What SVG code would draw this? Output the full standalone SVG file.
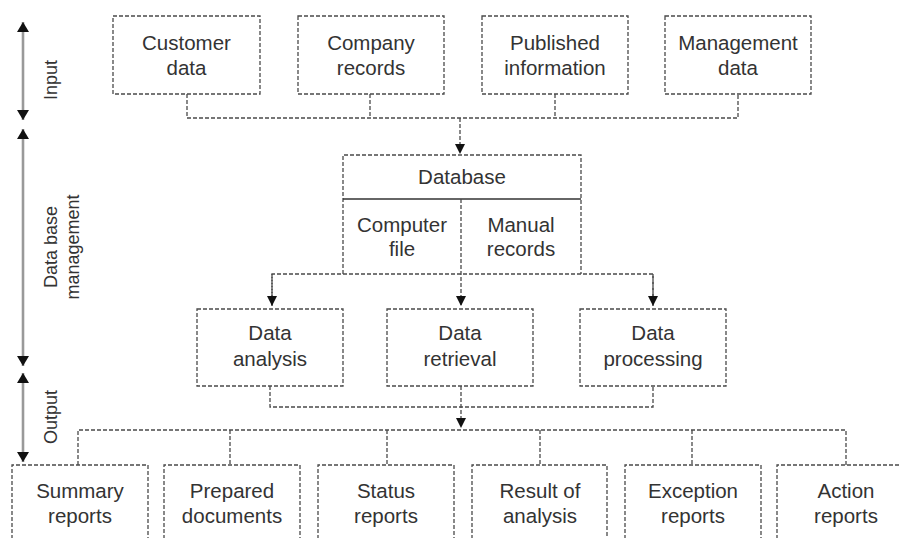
<svg xmlns="http://www.w3.org/2000/svg" width="901" height="538" viewBox="0 0 901 538">
  <style>
    .box { fill: none; stroke: #4a4a4a; stroke-width: 1.3; stroke-dasharray: 4 2; }
    .conn { fill: none; stroke: #4a4a4a; stroke-width: 1.3; stroke-dasharray: 4 2; }
    .solid { fill: none; stroke: #333; stroke-width: 1.3; }
    .lbl { font-family: "Liberation Sans", Arial, sans-serif; font-size: 20.5px; fill: #333; text-anchor: middle; }
    .side { font-family: "Liberation Sans", Arial, sans-serif; font-size: 18px; fill: #333; text-anchor: middle; }
    .span { fill: none; stroke: #999; stroke-width: 2.6; }
  </style>
  <defs>
    <marker id="arrow" markerUnits="userSpaceOnUse" markerWidth="10" markerHeight="11" refX="10" refY="5" orient="auto">
      <path d="M0,0 L10,5 L0,10 z" fill="#111"/>
    </marker>
    <marker id="tip" markerUnits="userSpaceOnUse" markerWidth="10" markerHeight="12" refX="10" refY="6" orient="auto-start-reverse">
      <path d="M0,0 L10,6 L0,12 z" fill="#111"/>
    </marker>
  </defs>
  <rect width="901" height="538" fill="#fff"/>

  <!-- stage spans on the left -->
  <g id="stages">
    <line class="span" x1="23" y1="22" x2="23" y2="120" marker-start="url(#tip)" marker-end="url(#tip)"/>
    <line class="span" x1="23" y1="129" x2="23" y2="366" marker-start="url(#tip)" marker-end="url(#tip)"/>
    <line class="span" x1="23" y1="373" x2="23" y2="462" marker-start="url(#tip)" marker-end="url(#tip)"/>
    <text class="side" transform="translate(57,80) rotate(-90)">Input</text>
    <text class="side" transform="translate(57,247) rotate(-90)">Data base</text>
    <text class="side" transform="translate(79,247) rotate(-90)">management</text>
    <text class="side" transform="translate(57,417) rotate(-90)">Output</text>
  </g>

  <!-- input sources -->
  <g id="customer-data">
    <rect class="box" x="113" y="16" width="147" height="78"/>
    <text class="lbl" x="186.5" y="50">Customer</text>
    <text class="lbl" x="186.5" y="75">data</text>
  </g>
  <g id="company-records">
    <rect class="box" x="298" y="16" width="146" height="78"/>
    <text class="lbl" x="371" y="50">Company</text>
    <text class="lbl" x="371" y="75">records</text>
  </g>
  <g id="published-information">
    <rect class="box" x="482" y="16" width="146" height="78"/>
    <text class="lbl" x="555" y="50">Published</text>
    <text class="lbl" x="555" y="75">information</text>
  </g>
  <g id="management-data">
    <rect class="box" x="665" y="16" width="146" height="78"/>
    <text class="lbl" x="738" y="50">Management</text>
    <text class="lbl" x="738" y="75">data</text>
  </g>

  <!-- database -->
  <g id="database">
    <path class="box" d="M343,274 L343,155 L581,155 L581,274"/>
    <line class="solid" x1="343" y1="199" x2="581" y2="199"/>
    <text class="lbl" x="462" y="184">Database</text>
    <text class="lbl" x="402" y="232">Computer</text>
    <text class="lbl" x="402" y="256">file</text>
    <text class="lbl" x="521" y="232">Manual</text>
    <text class="lbl" x="521" y="256">records</text>
  </g>

  <!-- processing -->
  <g id="data-analysis">
    <rect class="box" x="197" y="309" width="146" height="77"/>
    <text class="lbl" x="270" y="340">Data</text>
    <text class="lbl" x="270" y="366">analysis</text>
  </g>
  <g id="data-retrieval">
    <rect class="box" x="387" y="309" width="146" height="77"/>
    <text class="lbl" x="460" y="340">Data</text>
    <text class="lbl" x="460" y="366">retrieval</text>
  </g>
  <g id="data-processing">
    <rect class="box" x="580" y="309" width="146" height="77"/>
    <text class="lbl" x="653" y="340">Data</text>
    <text class="lbl" x="653" y="366">processing</text>
  </g>

  <!-- outputs -->
  <g id="summary-reports">
    <path class="box" d="M12,545 L12,465 L148,465 L148,545"/>
    <text class="lbl" x="80" y="498">Summary</text>
    <text class="lbl" x="80" y="523">reports</text>
  </g>
  <g id="prepared-documents">
    <path class="box" d="M164,545 L164,465 L300,465 L300,545"/>
    <text class="lbl" x="232" y="498">Prepared</text>
    <text class="lbl" x="232" y="523">documents</text>
  </g>
  <g id="status-reports">
    <path class="box" d="M318,545 L318,465 L454,465 L454,545"/>
    <text class="lbl" x="386" y="498">Status</text>
    <text class="lbl" x="386" y="523">reports</text>
  </g>
  <g id="result-of-analysis">
    <path class="box" d="M472,545 L472,465 L607,465 L607,545"/>
    <text class="lbl" x="540" y="498">Result of</text>
    <text class="lbl" x="540" y="523">analysis</text>
  </g>
  <g id="exception-reports">
    <path class="box" d="M625,545 L625,465 L761,465 L761,545"/>
    <text class="lbl" x="693" y="498">Exception</text>
    <text class="lbl" x="693" y="523">reports</text>
  </g>
  <g id="action-reports">
    <path class="box" d="M777,545 L777,465 L915,465 L915,545"/>
    <text class="lbl" x="846" y="498">Action</text>
    <text class="lbl" x="846" y="523">reports</text>
  </g>

  <g id="connectors">
    <!-- sources into database -->
    <path class="conn" d="M187,94 V118 H738 V94 M370,94 V118 M555,94 V118"/>
    <line class="conn" x1="460" y1="118" x2="460" y2="154" marker-end="url(#arrow)"/>
    <!-- database out to the three functions -->
    <path class="conn" d="M272,305 V274 H653 V305"/>
    <line class="conn" x1="272" y1="274" x2="272" y2="306" marker-end="url(#arrow)"/>
    <line class="conn" x1="653" y1="274" x2="653" y2="306" marker-end="url(#arrow)"/>
    <line class="conn" x1="461" y1="199" x2="461" y2="306" marker-end="url(#arrow)"/>
    <!-- functions merged into outputs -->
    <path class="conn" d="M270,386 V407 H653 V386"/>
    <line class="conn" x1="461" y1="386" x2="461" y2="428" marker-end="url(#arrow)"/>
    <path class="conn" d="M78,465 V430 H846 V465 M230,430 V465 M387,430 V465 M540,430 V465 M692,430 V465"/>
  </g>
</svg>
